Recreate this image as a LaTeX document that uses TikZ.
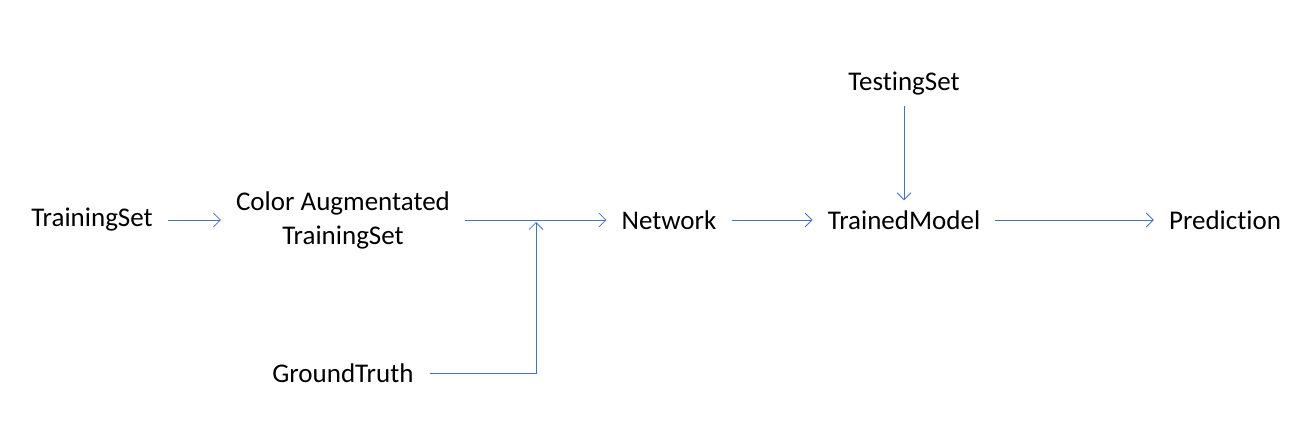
\documentclass[tikz,border=0pt]{standalone}
\usepackage{fontspec}
\setmainfont{Carlito}[Ligatures=CommonOff]
\usetikzlibrary{arrows.meta}
\definecolor{flowblue}{HTML}{4472C4}
\begin{document}
\begin{tikzpicture}[x = 1pt, y = -1pt]
		\tikzset{lbl/.style = {font = \fontsize{27}{34}\selectfont, inner xsep = 15pt, inner ysep = 10pt, align = center},
			flow/.style = {draw = flowblue, line width = .8pt, -{Straight Barb[length = 7pt, width = 14pt, line width = .8pt]}}}
		\useasboundingbox (0,0) rectangle (1304,433);
		\node (train) at (92,220) [lbl] {TrainingSet};
		\node (color) at (343,220) [lbl] {Color Augmentated\\TrainingSet};
		\node (gt) at (343,373) [lbl, inner xsep = 16pt] {GroundTruth};
		\node (net) at (669,220) [lbl] {Network};
		\node (model) at (904,220) [lbl] {TrainedModel};
		\node (test) at (904,84) [lbl] {TestingSet};
		\node (pred) at (1225,220) [lbl] {Prediction};
		\coordinate (join) at (536,222);

		\draw [flow] (train) -- (color);
		\draw [flow] (color) -- (net);
		\draw [flow] (gt) -| (join);
		\draw [flow] (net) -- (model);
		\draw [flow] (model) -- (pred);
		\draw [flow] (test) -- (model);
		\end{tikzpicture}
\end{document}
